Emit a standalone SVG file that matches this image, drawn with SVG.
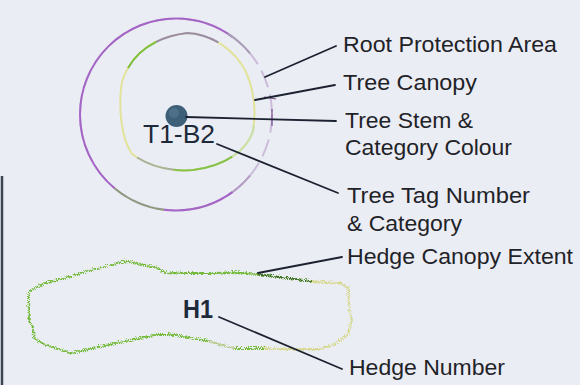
<svg xmlns="http://www.w3.org/2000/svg" width="580" height="385" viewBox="0 0 580 385">
<defs>
<filter id="wavy" x="-5%" y="-10%" width="110%" height="120%">
<feTurbulence type="turbulence" baseFrequency="0.5" numOctaves="1" seed="3" result="t"/>
<feDisplacementMap in="SourceGraphic" in2="t" scale="3.5" xChannelSelector="R" yChannelSelector="G"/>
</filter>
</defs>
<style>
.lbl{font-family:"Liberation Sans",Arial,sans-serif;font-size:22px;fill:#1f2328}
.tag{font-family:"Liberation Sans",Arial,sans-serif;font-size:26px;fill:#1e2a3a}
.lead{stroke:#1c2230;stroke-width:1.8;fill:none;stroke-linecap:round}
.ring{fill:none;stroke-width:2}
</style>
<rect width="580" height="385" fill="#ebedf5"/>
<line x1="2" y1="176" x2="2" y2="385" stroke="#3c4452" stroke-width="2.5"/>

<g id="tree-rpa">
<circle class="ring" cx="176" cy="114.5" r="96" stroke="#cbbcd9" stroke-width="1.6" pathLength="100" stroke-dasharray="3 1.2"/>
<circle class="ring" cx="176" cy="114.5" r="96" stroke="#b49cc4" pathLength="100" stroke-dasharray="0 11 5 84"/>
<circle class="ring" cx="176" cy="114.5" r="96" stroke="#a565c6" pathLength="100" stroke-dasharray="0 15 12 9 49 15"/>
<circle class="ring" cx="176" cy="114.5" r="96" stroke="#8f9a7e" pathLength="100" stroke-dasharray="0 27 9 64"/>
<circle class="ring" cx="176" cy="114.5" r="96" stroke="#a8a0b4" pathLength="100" stroke-dasharray="0 84 5 11"/>
<line x1="264" y1="97" x2="276" y2="99" stroke="#7a4f90" stroke-width="1.2"/>
<line x1="272" y1="109" x2="272" y2="126" stroke="#7a4f90" stroke-width="1.2"/>
</g>

<g id="tree-canopy">
<path class="ring" stroke="#e2e39a" d="M128,68 C137,52 155,37 187,33 C212,34 235,50 246,72 C254,90 256,112 253,131 C247,150 226,166 193,170 C170,172 148,166 132,154 C121,138 119,110 121,88 C122,80 125,73 128,68 Z"/>
<path class="ring" stroke="#7cbf3c" pathLength="100" stroke-dasharray="9 91" d="M128,68 C137,52 155,37 187,33 C212,34 235,50 246,72 C254,90 256,112 253,131 C247,150 226,166 193,170 C170,172 148,166 132,154 C121,138 119,110 121,88 C122,80 125,73 128,68 Z"/>
<path class="ring" stroke="#9a8ca8" pathLength="100" stroke-dasharray="0 9 15 76" d="M128,68 C137,52 155,37 187,33 C212,34 235,50 246,72 C254,90 256,112 253,131 C247,150 226,166 193,170 C170,172 148,166 132,154 C121,138 119,110 121,88 C122,80 125,73 128,68 Z"/>
<path class="ring" stroke="#86c24c" pathLength="100" stroke-dasharray="0 55 14 31" d="M128,68 C137,52 155,37 187,33 C212,34 235,50 246,72 C254,90 256,112 253,131 C247,150 226,166 193,170 C170,172 148,166 132,154 C121,138 119,110 121,88 C122,80 125,73 128,68 Z"/>
<path class="ring" stroke="#a9b0a0" pathLength="100" stroke-dasharray="0 69 9 22" d="M128,68 C137,52 155,37 187,33 C212,34 235,50 246,72 C254,90 256,112 253,131 C247,150 226,166 193,170 C170,172 148,166 132,154 C121,138 119,110 121,88 C122,80 125,73 128,68 Z"/>
<path class="ring" stroke="#c8e0a8" pathLength="100" stroke-dasharray="0 46 9 45" d="M128,68 C137,52 155,37 187,33 C212,34 235,50 246,72 C254,90 256,112 253,131 C247,150 226,166 193,170 C170,172 148,166 132,154 C121,138 119,110 121,88 C122,80 125,73 128,68 Z"/>
</g>

<g id="tree-stem">
<circle cx="176.5" cy="116" r="11" fill="#3e5f78"/>
<circle cx="174" cy="113" r="5" fill="#5a7d96" opacity="0.6"/>
</g>

<g id="tree-tag">
<text class="tag" x="143" y="143" textLength="72" lengthAdjust="spacingAndGlyphs">T1-B2</text>
</g>

<g id="hedge">
<g filter="url(#wavy)">
<path fill="none" stroke="#76bb3e" stroke-width="1.8" d="M310,280 L257,273 L233,271 L213,272 L187,272 L163,271 L157,267 L140,263 L127,260 L120,261 L93,268 L67,276 L43,282 L28,290 L27,297 L28,320 L32,328 L33,337 L43,343 L70,352 L100,345 L133,338 L157,333 L167,333 L193,337 L207,340 L233,347 L263,347"/>
<path fill="none" stroke="#3d6a2c" stroke-width="1.6" d="M257,273 L310,280"/>
<path fill="none" stroke="#d6d88e" stroke-width="1.8" d="M310,280 L340,282 L347,287 L348,307 L350,320 L347,333 L333,343 L317,348 L290,348 L263,347"/>
<path fill="none" stroke="#c9cfa0" stroke-width="1.8" d="M207,340 L233,347"/>
</g>
</g>

<g id="hedge-number">
<text class="tag" x="183" y="318" font-weight="bold" textLength="30" lengthAdjust="spacingAndGlyphs" fill="#23302a">H1</text>
</g>

<g id="connectors">
<line class="lead" x1="265" y1="77" x2="336" y2="46"/>
<line class="lead" x1="255" y1="100" x2="335" y2="85"/>
<line class="lead" x1="186" y1="117" x2="336" y2="121" stroke-width="1.4"/>
<line class="lead" x1="217" y1="144" x2="338" y2="193"/>
<line class="lead" x1="258" y1="273" x2="342" y2="257"/>
<line class="lead" x1="219" y1="317" x2="342" y2="369"/>
</g>

<g id="labels">
<text class="lbl" x="343" y="52" textLength="214" lengthAdjust="spacingAndGlyphs">Root Protection Area</text>
<text class="lbl" x="343" y="90" textLength="134" lengthAdjust="spacingAndGlyphs">Tree Canopy</text>
<text class="lbl" x="345" y="128" textLength="128" lengthAdjust="spacingAndGlyphs">Tree Stem &amp;</text>
<text class="lbl" x="345" y="155" textLength="167" lengthAdjust="spacingAndGlyphs">Category Colour</text>
<text class="lbl" x="347" y="203" textLength="183" lengthAdjust="spacingAndGlyphs">Tree Tag Number</text>
<text class="lbl" x="347" y="231" textLength="115" lengthAdjust="spacingAndGlyphs">&amp; Category</text>
<text class="lbl" x="347" y="264" textLength="226" lengthAdjust="spacingAndGlyphs">Hedge Canopy Extent</text>
<text class="lbl" x="349" y="375" textLength="156" lengthAdjust="spacingAndGlyphs">Hedge Number</text>
</g>
</svg>
